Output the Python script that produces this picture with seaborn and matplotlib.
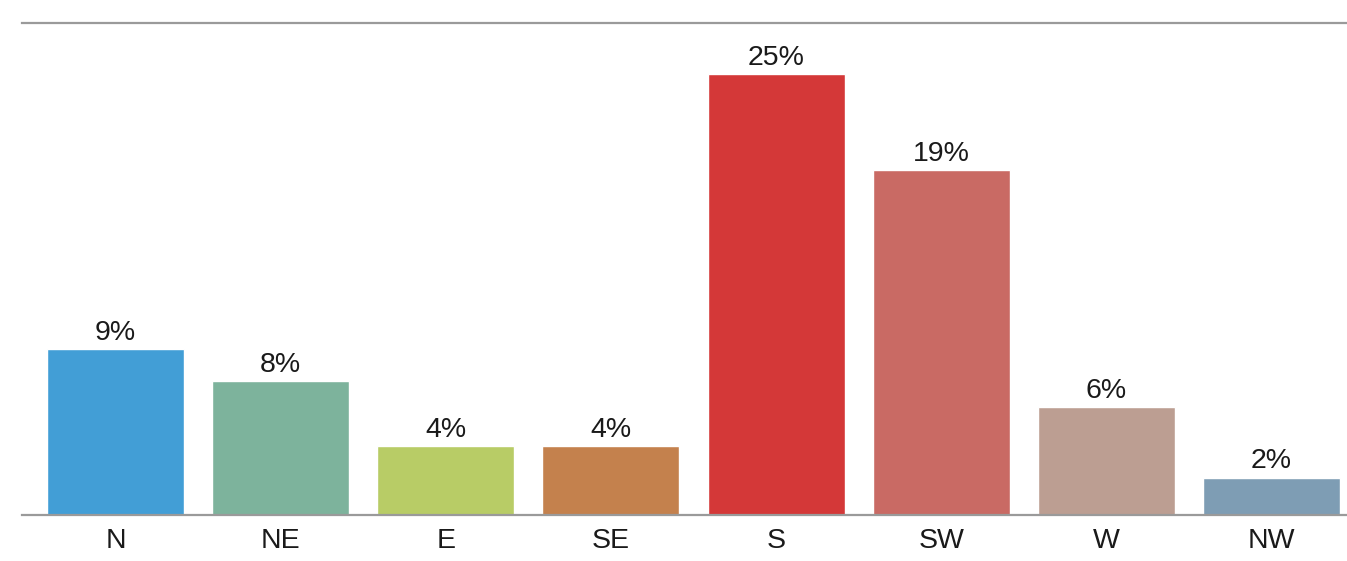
import matplotlib
matplotlib.use("Agg")
import matplotlib.pyplot as plt
import seaborn as sns
import pandas as pd

directions = ["N", "NE", "E", "SE", "S", "SW", "W", "NW"]
shares = [9.4, 7.6, 3.9, 3.9, 25.0, 19.55, 6.1, 2.1]
share_labels = ["9%", "8%", "4%", "4%", "25%", "19%", "6%", "2%"]
colors = ["#429ED6", "#7DB39C", "#B8CC66", "#C4814D", "#D43838", "#C96A64", "#BC9E92", "#7E9DB4"]

sns.set_theme(style="white")
plt.rcParams["font.family"] = ["Liberation Sans", "DejaVu Sans"]

df = pd.DataFrame({"dir": directions, "share": shares})

fig = plt.figure(figsize=(13.47, 5.61), dpi=100)
ax = fig.add_axes([22 / 1347, 46 / 561, 1325 / 1347, 492 / 561])
sns.barplot(data=df, x="dir", y="share", hue="dir", palette=colors,
            legend=False, width=0.83, saturation=1, ax=ax)

for p, lab in zip(ax.patches, share_labels):
    ax.annotate(lab, (p.get_x() + p.get_width() / 2, p.get_height()),
                xytext=(0, 2.5), textcoords="offset points", ha="center", va="bottom",
                fontsize=20.5, color="#1a1a1a")

ax.set_xlim(-0.567, 7.458)
ax.set_ylim(0, 27.9)
ax.set_xlabel("")
ax.set_ylabel("")
ax.set_yticks([])
ax.tick_params(axis="x", length=0, labelsize=20.5, pad=9, colors="#1a1a1a")
for s in ["left", "right"]:
    ax.spines[s].set_visible(False)
for s in ["top", "bottom"]:
    ax.spines[s].set_color("#9a9a9a")
    ax.spines[s].set_linewidth(1.6)

fig.savefig("out.png", dpi=100)
